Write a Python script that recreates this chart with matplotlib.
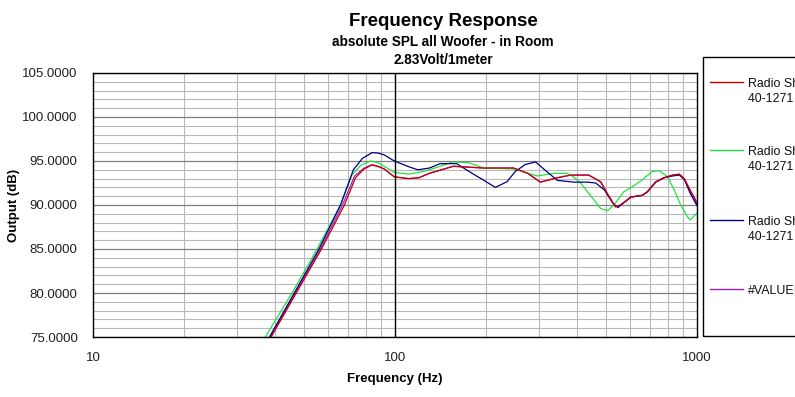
#!/usr/bin/env python3

import matplotlib
matplotlib.use('Agg')
import matplotlib.pyplot as plt
from matplotlib.lines import Line2D
from matplotlib.patches import Rectangle
from matplotlib.ticker import FixedLocator, NullFormatter

# --- data (Hz, dB) ---
freq_red = [33, 38.9, 47.1, 57.1, 68, 74, 79, 84, 89, 92, 99.5, 111, 120, 130, 156, 197, 247,
            275, 303, 345, 382, 438, 480, 505, 537, 558, 604, 659, 685, 730, 778, 830, 874,
            908, 950, 1000]
spl_red = [71.8, 75.0, 80.0, 85.0, 90.0, 93.1, 94.1, 94.55, 94.3, 94.1, 93.2, 93.0, 93.1,
           93.6, 94.4, 94.2, 94.2, 93.6, 92.6, 93.1, 93.4, 93.4, 92.65, 91.3, 89.8, 90.0,
           90.9, 91.1, 91.5, 92.65, 93.1, 93.4, 93.5, 93.0, 91.7, 90.3]

freq_green = [32, 37.2, 45.6, 55.2, 66, 72, 77, 83, 88, 92, 99.5, 111, 120, 130, 156, 175,
              197, 247, 270, 296, 335, 372, 390, 412, 447, 480, 505, 531, 572, 625, 667,
              710, 750, 800, 841, 883, 928, 950, 1000]
spl_green = [71.8, 75.0, 80.0, 85.0, 90.0, 93.4, 94.5, 95.0, 94.8, 94.4, 93.7, 93.5, 93.7,
             94.0, 94.9, 94.8, 94.2, 94.1, 93.7, 93.3, 93.6, 93.6, 93.2, 92.5, 90.95, 89.6,
             89.35, 90.0, 91.5, 92.3, 93.0, 93.8, 93.9, 93.2, 91.7, 90.0, 88.7, 88.3, 89.1]

freq_blue = [33, 38.4, 46.4, 56.0, 66, 72.8, 78, 84, 88, 92, 99.5, 111, 119, 130, 141, 160,
             180, 197, 215, 235, 250, 270, 292, 318, 345, 390, 433, 462, 494, 527, 547, 604,
             659, 685, 730, 778, 830, 874, 908, 950, 1000]
spl_blue = [72.2, 75.0, 80.0, 85.0, 90.0, 94.0, 95.3, 95.95, 95.9, 95.7, 95.0, 94.35, 94.0,
            94.2, 94.7, 94.7, 93.6, 92.8, 92.0, 92.65, 93.8, 94.6, 94.9, 93.8, 92.8, 92.6,
            92.6, 92.5, 91.7, 90.2, 89.7, 90.9, 91.1, 91.5, 92.6, 93.1, 93.3, 93.4, 92.9,
            91.4, 90.0]

freq_purple = [33, 38.6, 46.8, 56.6, 67, 73.5, 79, 84, 89, 92, 99.5, 111, 120, 130, 156, 197,
               247, 275, 303, 345, 382, 438, 480, 505, 537, 558, 604, 659, 685, 730, 778,
               830, 874, 908, 950, 1000]
spl_purple = [71.9, 75.0, 80.0, 85.0, 90.0, 93.3, 94.2, 94.6, 94.35, 94.1, 93.2, 93.0, 93.1,
              93.6, 94.4, 94.2, 94.2, 93.6, 92.6, 93.1, 93.4, 93.4, 92.6, 91.2, 89.8, 90.0,
              90.9, 91.1, 91.5, 92.6, 93.1, 93.4, 93.5, 92.9, 91.3, 89.9]

series = [
    (freq_purple, spl_purple, '#9b20c8'),
    (freq_green, spl_green, '#22e040'),
    (freq_blue, spl_blue, '#000080'),
    (freq_red, spl_red, '#c80000'),
]
legend_labels = ['Radio Shack\n40-1271 (1)', 'Radio Shack\n40-1271 (2)',
                 'Radio Shack\n40-1271 (3)', '#VALUE!']
legend_colors = ['#c80000', '#22e040', '#000080', '#9b20c8']

x_ticks = [10, 100, 1000]
y_ticks = [75, 80, 85, 90, 95, 100, 105]

plt.rcParams['font.family'] = ['Liberation Sans', 'DejaVu Sans']

W, H = 795, 397
fig = plt.figure(figsize=(W / 100, H / 100), dpi=100)
ax = fig.add_axes([93 / W, (H - 337) / H, 604 / W, 264 / H])

for f, s, c in series:
    ax.plot(f, s, color=c, lw=0.9)

ax.set_xscale('log')
ax.set_xlim(10, 1000)
ax.set_ylim(75, 105)

ax.xaxis.set_major_locator(FixedLocator(x_ticks))
ax.set_xticklabels([str(t) for t in x_ticks])
minor_x = [m * d for d in (10, 100) for m in range(2, 10)]
ax.xaxis.set_minor_locator(FixedLocator(minor_x))
ax.xaxis.set_minor_formatter(NullFormatter())
ax.yaxis.set_major_locator(FixedLocator(y_ticks))
ax.set_yticklabels(['%.4f' % t for t in y_ticks])
ax.yaxis.set_minor_locator(FixedLocator([v for v in range(75, 106) if v % 5]))

ax.tick_params(which='both', length=0, labelsize=9.5, colors='#202020')
ax.tick_params(axis='x', pad=11)
ax.tick_params(axis='y', pad=11)
ax.grid(which='minor', color='#b8b8b8', lw=0.8)
ax.grid(which='major', axis='y', color='#808080', lw=0.9)
ax.axvline(100, color='black', lw=1.0)
ax.set_axisbelow(True)
for sp in ax.spines.values():
    sp.set_linewidth(1.0)

ax.set_xlabel('Frequency (Hz)', fontsize=9.5, fontweight='bold')
ax.xaxis.set_label_coords(0.5, -(373 - 337) / 264)
ax.set_ylabel('Output (dB)', fontsize=9.5, fontweight='bold')
ax.yaxis.set_label_coords(-(93 - 20) / 604, 0.5)

# titles
cx = 443 / W
fig.text(cx, 1 - 21 / H, 'Frequency Response', ha='center', va='center',
         fontsize=13.5, fontweight='bold')
fig.text(cx, 1 - 42 / H, 'absolute SPL all Woofer - in Room', ha='center', va='center',
         fontsize=9.8, fontweight='bold')
fig.text(cx, 1 - 60 / H, '2.83Volt/1meter', ha='center', va='center',
         fontsize=9.8, fontweight='bold')

# legend box, runs off the right edge like the original
fig.add_artist(Rectangle((703 / W, (H - 336) / H), 200 / W, 279 / H,
                         transform=fig.transFigure, fill=False, ec='black', lw=1.0))
rows = [82, 150, 220, 289]
for label, c, yp in zip(legend_labels, legend_colors, rows):
    yf = 1 - yp / H
    fig.add_artist(Line2D([710 / W, 743 / W], [yf, yf], color=c, lw=1.0,
                          transform=fig.transFigure))
    fig.text(748 / W, 1 - (yp - 4) / H, label, ha='left', va='top', fontsize=8.9,
             linespacing=1.3, color='#101010')

fig.savefig('out.png', dpi=100)
